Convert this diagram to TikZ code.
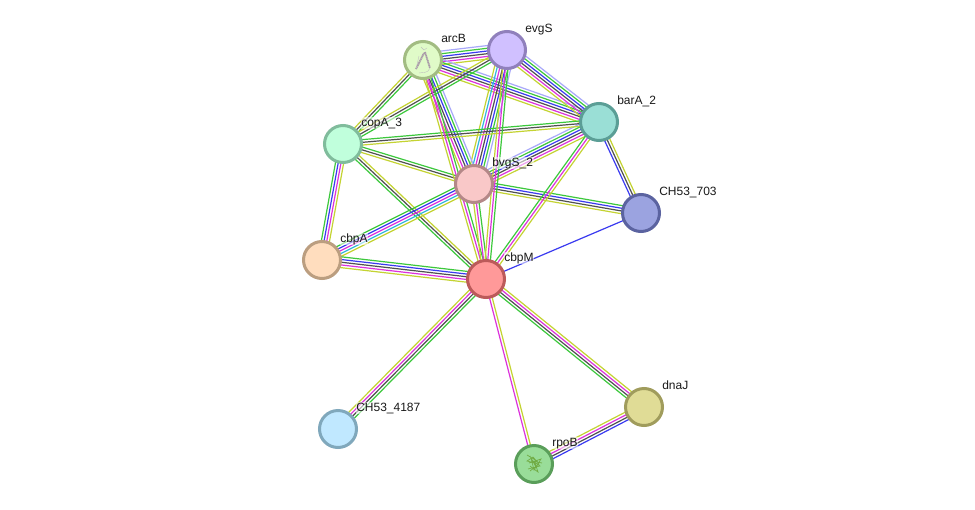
\documentclass[tikz,border=0pt]{standalone}
\usepackage{fontspec}
\setmainfont{Liberation Sans}
\usetikzlibrary{calc,backgrounds}
% evidence channels
\definecolor{g}{HTML}{3CC83C}
\definecolor{b}{HTML}{3A3AF0}
\definecolor{k}{HTML}{505050}
\definecolor{m}{HTML}{DC32DC}
\definecolor{c}{HTML}{32B8DC}
\definecolor{y}{HTML}{C4D332}
\definecolor{l}{HTML}{A8A8FA}
% protein rims and fills
\definecolor{arcBr}{HTML}{A2BC82}\definecolor{arcBf}{HTML}{E0FBC8}
\definecolor{evgSr}{HTML}{9080BC}\definecolor{evgSf}{HTML}{D0C0FF}
\definecolor{barAr}{HTML}{5B9E96}\definecolor{barAf}{HTML}{9ADFD6}
\definecolor{chAr}{HTML}{5B63A0}\definecolor{chAf}{HTML}{9BA3E0}
\definecolor{copAr}{HTML}{80BC9C}\definecolor{copAf}{HTML}{C0FFDC}
\definecolor{bvgSr}{HTML}{B48888}\definecolor{bvgSf}{HTML}{F9C8C8}
\definecolor{cbpAr}{HTML}{BB9E80}\definecolor{cbpAf}{HTML}{FFDDBE}
\definecolor{cbpMr}{HTML}{BC5A5A}\definecolor{cbpMf}{HTML}{FF9999}
\definecolor{chBr}{HTML}{80A8BC}\definecolor{chBf}{HTML}{C0E8FF}
\definecolor{dnaJr}{HTML}{A09C5C}\definecolor{dnaJf}{HTML}{E0DC96}
\definecolor{rpoBr}{HTML}{5A9E5A}\definecolor{rpoBf}{HTML}{99DD99}
\definecolor{helixgrey}{HTML}{A898A8}
\definecolor{helixleaf}{HTML}{68A030}
\tikzset{
  protein/.style={circle,draw=#1r,fill=#1f,line width=3pt,minimum size=37pt,inner sep=0pt},
  tag/.style={anchor=base west,font=\fontsize{12pt}{12pt}\selectfont,text=black!90,
    fill=white,fill opacity=.55,text opacity=1,inner sep=.6pt},
  strand/.style={line width=1.2pt},
}
% Parallel evidence lines between two proteins; the first colour lies to the
% left when travelling from the first protein to the second.
\newcommand{\bundle}[3]{%
  \foreach \col [count=\n] in {#3} {\xdef\bundlesize{\n}}%
  \foreach \col [count=\n] in {#3} {%
    \pgfmathsetmacro{\off}{((\bundlesize+1)/2-\n)*2.7}%
    \draw[strand,color=\col] ($(#1)!\off pt!90:(#2)$) -- ($(#2)!\off pt!-90:(#1)$);
  }%
}
\begin{document}
\begin{tikzpicture}[x=1pt,y=-1pt]
\useasboundingbox (0,0) rectangle (975,509);

% proteins
\node[protein=arcB] (arcB) at (423,60) {};
\node[protein=evgS] (evgS) at (507,50) {};
\node[protein=barA] (barA) at (599,122) {};
\node[protein=chA] (ch703) at (641,213) {};
\node[protein=copA] (copA) at (343,144) {};
\node[protein=bvgS] (bvgS) at (474,184) {};
\node[protein=cbpA] (cbpA) at (322,260) {};
\node[protein=cbpM] (cbpM) at (486,279) {};
\node[protein=chB] (ch4187) at (338,429) {};
\node[protein=dnaJ] (dnaJ) at (644,407) {};
\node[protein=rpoB] (rpoB) at (534,464) {};

% evidence lines behind the proteins
\begin{scope}[on background layer]
\fill[white] (0,0) rectangle (975,509);
\bundle{arcB}{evgS}{l,g,b,k,m,y}
\bundle{arcB}{barA}{l,g,b,k,m,y}
\bundle{evgS}{barA}{l,g,b,k,m,y}
\bundle{evgS}{bvgS}{l,g,b,k,m,c,y}
\bundle{arcB}{bvgS}{l,g,b,k,m,y}
\bundle{bvgS}{barA}{l,g,b,k,m,y}
\bundle{arcB}{copA}{g,k,y}
\bundle{evgS}{copA}{g,k,y}
\bundle{copA}{barA}{g,k,y}
\bundle{copA}{bvgS}{g,k,y}
\bundle{copA}{cbpM}{y,k,g}
\bundle{copA}{cbpA}{y,m,b,g}
\bundle{cbpA}{bvgS}{g,b,m,c,y}
\bundle{cbpA}{cbpM}{g,b,k,m,y}
\bundle{bvgS}{ch703}{g,b,k,y}
\bundle{barA}{ch703}{y,k,b}
\bundle{barA}{cbpM}{y,m,g}
\bundle{arcB}{cbpM}{g,m,y}
\bundle{bvgS}{cbpM}{g,m,y}
\bundle{evgS}{cbpM}{g,m,y}
\bundle{cbpM}{ch703}{b}
\bundle{ch4187}{cbpM}{y,m,k,g}
\bundle{cbpM}{dnaJ}{y,m,k,g}
\bundle{rpoB}{dnaJ}{y,m,k,b}
\bundle{rpoB}{cbpM}{m,y}
\end{scope}

% structure sketches inside two of the proteins
\draw[helixgrey,line width=1.8pt,dash pattern=on 1.2pt off .5pt] (416,69) -- (424,53) (425,52) -- (430,68);
\draw[black!25,line width=.4pt] (430,68) .. controls (428,74) and (422,72) .. (419,73)
  (424,50) -- (421,47) (424,50) -- (427,48) (416,69) -- (419,56);
\draw[helixleaf,opacity=.8,line width=.7pt]
  (527,455) -- (537,461) -- (529,463) -- (541,459) -- (534,470) -- (531,458)
  -- (536,467) -- (528,469) -- (540,466) -- (533,461) -- (542,463)
  (530,466) -- (538,472) -- (535,463) -- (527,461) -- (533,457) -- (539,464) -- (530,471);

% labels
\node[tag] (larcB) at (440.5,42) {arcB};
\node[tag] (levgS) at (524.5,32) {evgS};
\node[tag] (lbarA) at (616.5,104) {barA\_2};
\node[tag] (lch703) at (658.5,195) {CH53\_703};
\node[tag] (lcopA) at (360.5,126) {copA\_3};
\node[tag] (lbvgS) at (491.5,166) {bvgS\_2};
\node[tag] (lcbpA) at (339.5,242) {cbpA};
\node[tag] (lcbpM) at (503.5,261) {cbpM};
\node[tag] (lch4187) at (355.5,411) {CH53\_4187};
\node[tag] (ldnaJ) at (661.5,389) {dnaJ};
\node[tag] (lrpoB) at (551.5,446) {rpoB};
\end{tikzpicture}
\end{document}
